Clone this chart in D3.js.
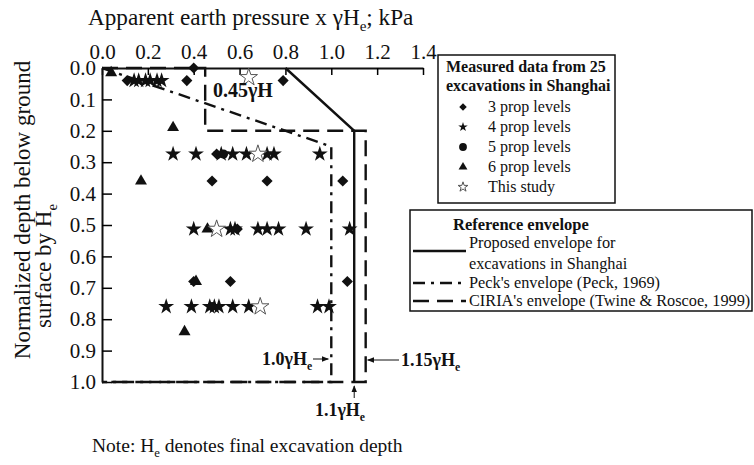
<!DOCTYPE html>
<html>
<head>
<meta charset="utf-8">
<script src="https://cdn.jsdelivr.net/npm/d3@7"></script>
<style>
  body { margin: 0; background: #fff; }
  svg text { font-family: "Liberation Serif", "Times New Roman", "DejaVu Serif", serif; fill: #111; }
</style>
</head>
<body>
<script>
// data: [apparent pressure / gamma*He, normalized depth]
var props3 = [[0.11, 0.04], [0.37, 0.04], [0.40, 0.0], [0.79, 0.04], [0.50, 0.274],
  [0.48, 0.36], [0.72, 0.36], [1.05, 0.36], [0.59, 0.513], [0.40, 0.68], [0.56, 0.68], [1.07, 0.68]];
var props4 = [[0.14, 0.04], [0.16, 0.04], [0.19, 0.04], [0.21, 0.04], [0.24, 0.04], [0.26, 0.04],
  [0.31, 0.274], [0.41, 0.274], [0.52, 0.274], [0.57, 0.274], [0.63, 0.274], [0.72, 0.274], [0.75, 0.274], [0.95, 0.274],
  [0.40, 0.513], [0.56, 0.513], [0.58, 0.513], [0.68, 0.513], [0.72, 0.513], [0.77, 0.513], [0.89, 0.513], [1.08, 0.513],
  [0.28, 0.76], [0.39, 0.76], [0.47, 0.76], [0.49, 0.76], [0.51, 0.76], [0.57, 0.76], [0.64, 0.76], [0.94, 0.76], [0.99, 0.76]];
var props5 = [[0.53, 0.274], [0.48, 0.76]];
var props6 = [[0.04, 0.015], [0.31, 0.19], [0.17, 0.36], [0.46, 0.513], [0.41, 0.68], [0.36, 0.84]];
var thisStudy = [[0.64, 0.03], [0.68, 0.274], [0.50, 0.513], [0.69, 0.76]];

// envelopes
var proposed = [[0.8, 0], [1.1, 0.2], [1.1, 1.0]];
var peck = [[0, 0], [1.0, 0.25], [1.0, 1.0], [0, 1.0]];
var ciria = [[0, 0], [0.45, 0], [0.45, 0.2], [1.15, 0.2], [1.15, 1.0], [0, 1.0]];

var xTicks = [0, 0.2, 0.4, 0.6, 0.8, 1.0, 1.2, 1.4];
var yTicks = [0, 0.1, 0.2, 0.3, 0.4, 0.5, 0.6, 0.7, 0.8, 0.9, 1.0];

var width = 754, height = 465;
var serif = '"Liberation Serif", "Times New Roman", "DejaVu Serif", serif';

var svg = d3.select('body').append('svg')
  .attr('width', width)
  .attr('height', height)
  .attr('font-family', serif);

var x = d3.scaleLinear().domain([0, 1.4]).range([102, 423]);
var y = d3.scaleLinear().domain([0, 1]).range([68, 382]);

// axes: x on top, ticks pointing inward
var xAxis = svg.append('g')
  .attr('transform', 'translate(0,' + y(0) + ')')
  .call(d3.axisTop(x).tickValues(xTicks).tickSizeInner(-7).tickSizeOuter(0)
    .tickFormat(d3.format('.1f')));
xAxis.attr('font-family', serif);
xAxis.select('.domain').attr('stroke-width', 2).attr('stroke', '#111');
xAxis.selectAll('.tick line').attr('stroke-width', 1.5);
xAxis.selectAll('.tick text').attr('font-size', 21).attr('dy', '-0.42em').attr('y', 0);

var yAxis = svg.append('g')
  .attr('transform', 'translate(' + x(0) + ',0)')
  .call(d3.axisLeft(y).tickValues(yTicks).tickSizeInner(-10).tickSizeOuter(0)
    .tickFormat(d3.format('.1f')));
yAxis.attr('font-family', serif);
yAxis.select('.domain').attr('stroke-width', 2).attr('stroke', '#111');
yAxis.selectAll('.tick line').attr('stroke-width', 1.5);
yAxis.selectAll('.tick text').attr('font-size', 21).attr('x', -6);

// envelope lines
var line = d3.line().x(function(d) { return x(d[0]); }).y(function(d) { return y(d[1]); });

svg.append('path').datum(ciria).attr('d', line)
  .attr('fill', 'none').attr('stroke', '#111').attr('stroke-width', 2.4)
  .attr('stroke-dasharray', '16,8');
svg.append('path').datum(peck).attr('d', line)
  .attr('fill', 'none').attr('stroke', '#111').attr('stroke-width', 2.4)
  .attr('stroke-dasharray', '12,6,3,6');
svg.append('path').datum(proposed).attr('d', line)
  .attr('fill', 'none').attr('stroke', '#111').attr('stroke-width', 2.4);

// markers
function drawSymbols(data, type, size, rotate, hollow) {
  svg.append('g').selectAll('path')
    .data(data).enter().append('path')
    .attr('d', d3.symbol().type(type).size(size))
    .attr('transform', function(d) {
      return 'translate(' + x(d[0]) + ',' + y(d[1]) + ')' + (rotate ? ' rotate(45)' : '');
    })
    .attr('fill', hollow ? '#fff' : '#111')
    .attr('stroke', hollow ? '#555' : 'none')
    .attr('stroke-width', 1);
}
drawSymbols(props3, d3.symbolSquare, 62, true, false);
drawSymbols(props4, d3.symbolStar, 78, false, false);
drawSymbols(props5, d3.symbolCircle, 65, false, false);
drawSymbols(props6, d3.symbolTriangle, 62, false, false);
drawSymbols(thisStudy, d3.symbolStar, 95, false, true);

// helper for text with subscript e
function subText(g, px, py, before, after, size, bold, anchor) {
  var t = g.append('text').attr('x', px).attr('y', py)
    .attr('font-size', size)
    .attr('font-weight', bold ? 'bold' : 'normal')
    .attr('text-anchor', anchor || 'start');
  t.append('tspan').text(before);
  t.append('tspan').attr('font-size', size * 0.65).attr('dy', size * 0.25).text('e');
  if (after) t.append('tspan').attr('dy', -size * 0.25).text(after);
  return t;
}

// titles
subText(svg, 88, 25, 'Apparent earth pressure x \u03B3H', '; kPa', 23.2, false);
svg.append('text')
  .attr('transform', 'translate(30,210) rotate(-90)')
  .attr('text-anchor', 'middle').attr('font-size', 23)
  .text('Normalized depth below ground');
subText(svg.append('g').attr('transform', 'translate(51,266) rotate(-90)'),
  0, 0, 'surface by H', null, 23, false, 'middle');
subText(svg, 92, 452, 'Note: H', ' denotes final excavation depth', 19.5, false);

// annotations
svg.append('text').attr('x', 213).attr('y', 97).attr('font-size', 20)
  .attr('font-weight', 'bold').text('0.45\u03B3H');

var arrow = svg.append('defs').append('marker')
  .attr('id', 'arr').attr('viewBox', '0 0 10 10').attr('refX', 9).attr('refY', 5)
  .attr('markerWidth', 7).attr('markerHeight', 7).attr('orient', 'auto-start-reverse');
arrow.append('path').attr('d', 'M0,1L10,5L0,9Z').attr('fill', '#111');

subText(svg, 262, 365, '1.0\u03B3H', null, 18, true);
svg.append('line').attr('x1', 313).attr('y1', 359).attr('x2', x(1.0) - 3).attr('y2', 359)
  .attr('stroke', '#111').attr('stroke-width', 1).attr('marker-end', 'url(#arr)');

subText(svg, 401, 366, '1.15\u03B3H', null, 18, true);
svg.append('line').attr('x1', 399).attr('y1', 360).attr('x2', x(1.15) + 2).attr('y2', 360)
  .attr('stroke', '#111').attr('stroke-width', 1).attr('marker-end', 'url(#arr)');

subText(svg, 340, 416, '1.1\u03B3H', null, 18, true, 'middle');
svg.append('line').attr('x1', x(1.1)).attr('y1', 398).attr('x2', x(1.1)).attr('y2', 386)
  .attr('stroke', '#111').attr('stroke-width', 1).attr('marker-end', 'url(#arr)');

// legend 1: measured data
var lg1 = svg.append('g');
lg1.append('rect').attr('x', 438).attr('y', 55).attr('width', 177).attr('height', 148)
  .attr('fill', '#fff').attr('stroke', '#111').attr('stroke-width', 1.5);
lg1.append('text').attr('x', 446).attr('y', 72).attr('font-size', 16).attr('font-weight', 'bold')
  .text('Measured data from 25');
lg1.append('text').attr('x', 446).attr('y', 91).attr('font-size', 16).attr('font-weight', 'bold')
  .text('excavations in Shanghai');
var lg1Items = [
  { label: '3 prop levels', type: d3.symbolSquare, size: 28, rot: true, hollow: false },
  { label: '4 prop levels', type: d3.symbolStar, size: 28, rot: false, hollow: false },
  { label: '5 prop levels', type: d3.symbolCircle, size: 48, rot: false, hollow: false },
  { label: '6 prop levels', type: d3.symbolTriangle, size: 34, rot: false, hollow: false },
  { label: 'This study', type: d3.symbolStar, size: 30, rot: false, hollow: true }
];
lg1Items.forEach(function(it, i) {
  var cy = 107 + i * 20;
  lg1.append('path').attr('d', d3.symbol().type(it.type).size(it.size)())
    .attr('transform', 'translate(463,' + cy + ')' + (it.rot ? ' rotate(45)' : ''))
    .attr('fill', it.hollow ? '#fff' : '#111')
    .attr('stroke', it.hollow ? '#555' : 'none');
  lg1.append('text').attr('x', 488).attr('y', cy + 5).attr('font-size', 16).text(it.label);
});

// legend 2: reference envelopes
var lg2 = svg.append('g');
lg2.append('rect').attr('x', 410).attr('y', 210).attr('width', 342).attr('height', 101)
  .attr('fill', '#fff').attr('stroke', '#111').attr('stroke-width', 1.5);
lg2.append('text').attr('x', 453).attr('y', 230).attr('font-size', 16.5).attr('font-weight', 'bold')
  .text('Reference envelope');
lg2.append('line').attr('x1', 413).attr('x2', 466).attr('y1', 251).attr('y2', 251)
  .attr('stroke', '#111').attr('stroke-width', 2.4);
lg2.append('text').attr('x', 469).attr('y', 248).attr('font-size', 16.3).text('Proposed envelope for');
lg2.append('text').attr('x', 469).attr('y', 269).attr('font-size', 16.3).text('excavations in Shanghai');
lg2.append('line').attr('x1', 413).attr('x2', 466).attr('y1', 283).attr('y2', 283)
  .attr('stroke', '#111').attr('stroke-width', 2.4).attr('stroke-dasharray', '12,6,3,6');
lg2.append('text').attr('x', 469).attr('y', 288).attr('font-size', 16.3).text("Peck's envelope (Peck, 1969)");
lg2.append('line').attr('x1', 413).attr('x2', 466).attr('y1', 301).attr('y2', 301)
  .attr('stroke', '#111').attr('stroke-width', 2.4).attr('stroke-dasharray', '16,8');
lg2.append('text').attr('x', 469).attr('y', 306).attr('font-size', 16.3).text("CIRIA's envelope (Twine & Roscoe, 1999)");
</script>
</body>
</html>
